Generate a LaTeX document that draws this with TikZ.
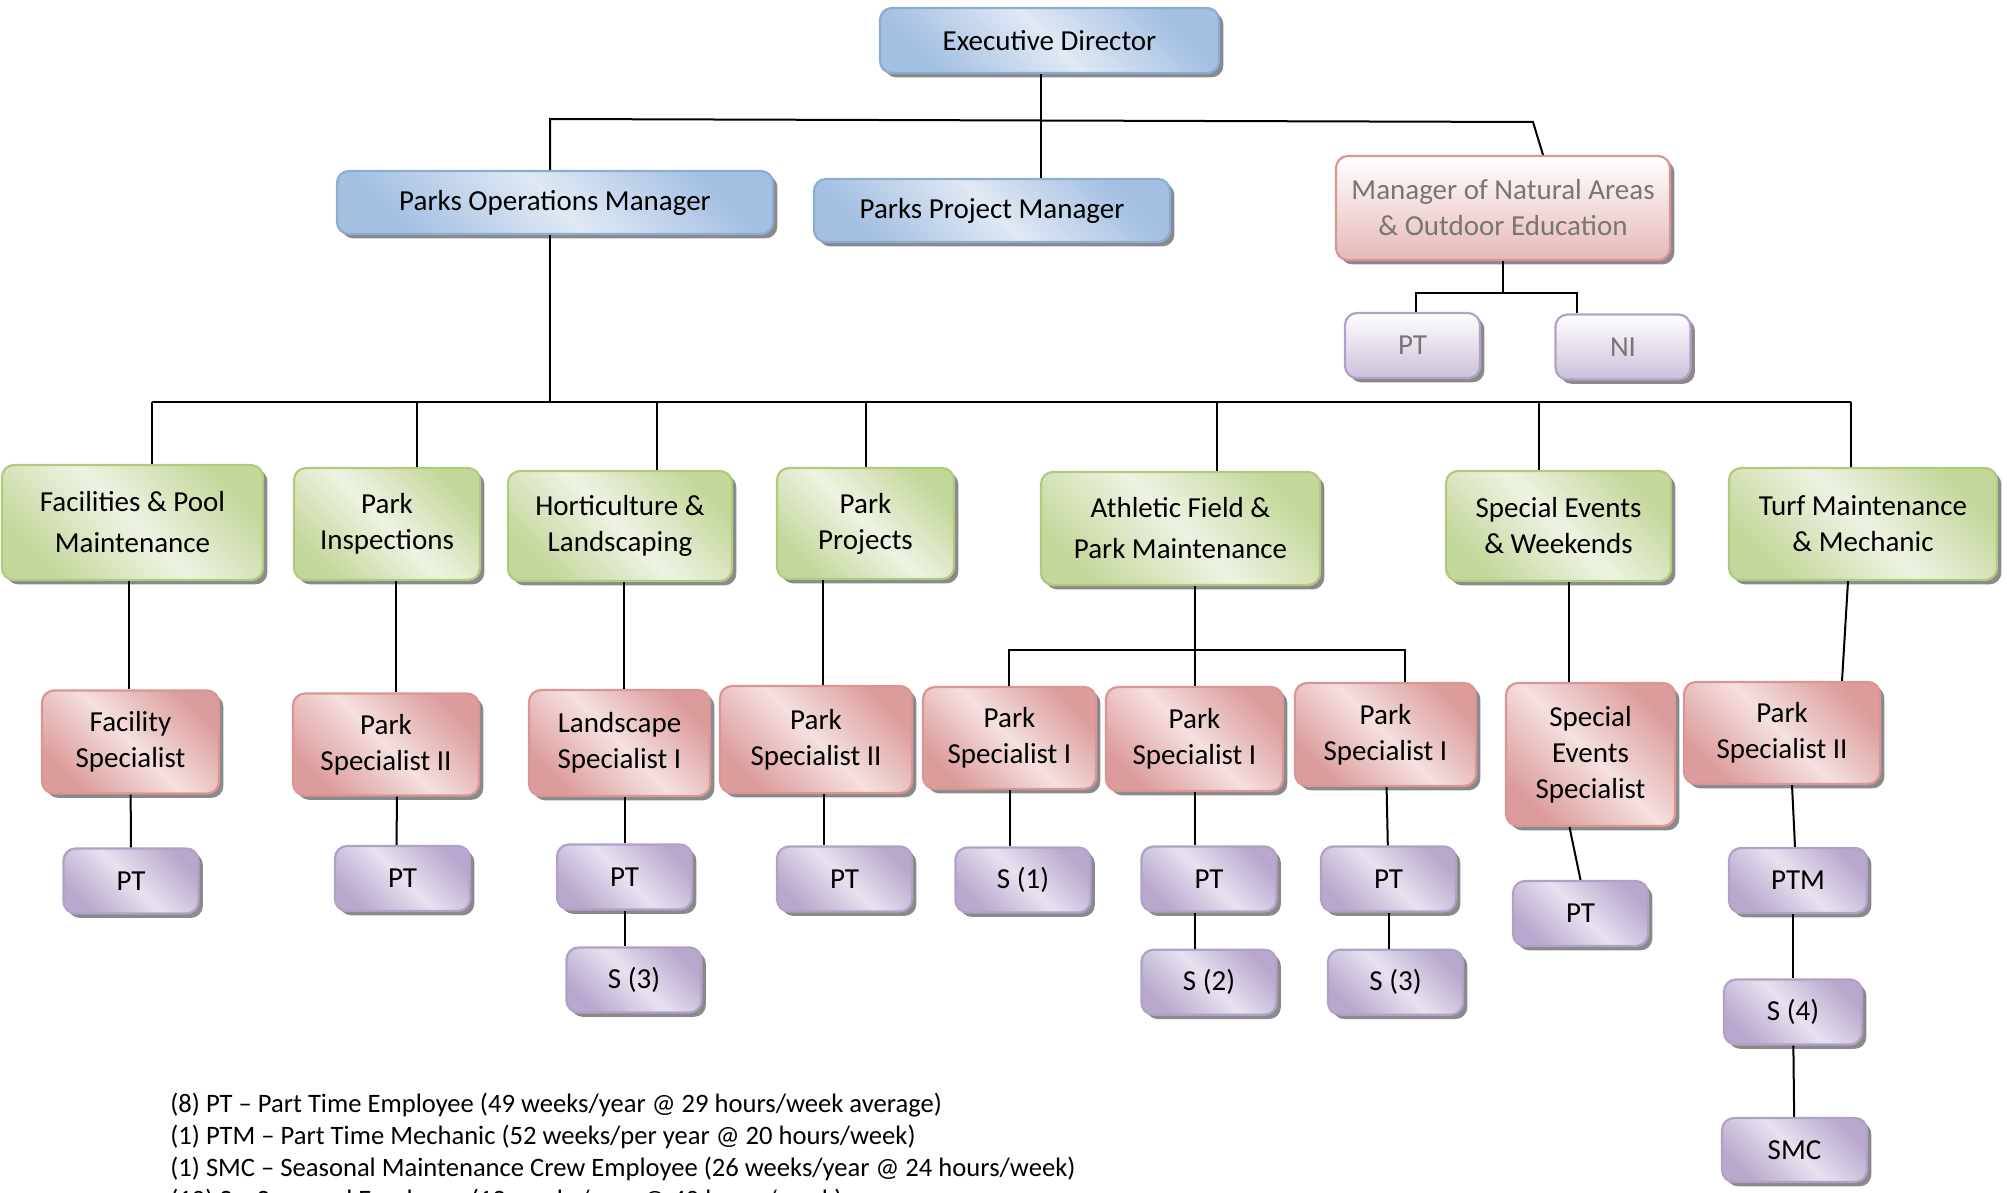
\documentclass[tikz,border=0pt]{standalone}
\usepackage{fontspec}
\setmainfont{Carlito}
\usetikzlibrary{shadows,calc,positioning}

\definecolor{blueE}{RGB}{140,172,212}
\definecolor{blueD}{RGB}{163,191,226}
\definecolor{blueL}{RGB}{224,233,244}
\definecolor{greenE}{RGB}{176,203,125}
\definecolor{greenD}{RGB}{196,215,155}
\definecolor{greenL}{RGB}{238,243,227}
\definecolor{redE}{RGB}{217,150,148}
\definecolor{redD}{RGB}{220,156,155}
\definecolor{redL}{RGB}{245,224,224}
\definecolor{purpE}{RGB}{178,161,199}
\definecolor{purpD}{RGB}{184,168,205}
\definecolor{purpL}{RGB}{231,226,239}
\definecolor{paleredD}{RGB}{230,185,184}
\definecolor{palepurpD}{RGB}{204,192,218}
\definecolor{mutedtext}{RGB}{118,118,118}
\definecolor{shadowgray}{RGB}{138,138,140}

\newcommand{\orgfont}{\fontsize{14.5pt}{18pt}\selectfont}
\newcommand{\keyfont}{\fontsize{13.3pt}{16pt}\selectfont}

\tikzset{
    unit/.style = {rounded corners=6pt, line width=1.1pt, inner sep=2pt, align=center,
                   font=\orgfont, text=black,
                   drop shadow={shadow xshift=2.2pt, shadow yshift=-2.2pt, fill=shadowgray, opacity=1}},
    bluebox/.style = {unit, draw=blueE, top color=blueD, bottom color=blueD, middle color=blueL, shading angle=-45},
    greenbox/.style = {unit, draw=greenE, top color=greenD, bottom color=greenD, middle color=greenL, shading angle=-45},
    redbox/.style = {unit, draw=redE, top color=redD, bottom color=redD, middle color=redL, shading angle=-45},
    purplebox/.style = {unit, draw=purpE, top color=purpD, bottom color=purpD, middle color=purpL, shading angle=-45,
                        minimum width=67.5pt, minimum height=32.5pt},
    palered/.style = {unit, draw=redE, top color=white, bottom color=paleredD, text=mutedtext},
    palepurple/.style = {unit, draw=purpE, top color=white, bottom color=palepurpD, text=mutedtext,
                         minimum width=67.5pt, minimum height=32.5pt},
    link/.style = {line width=1pt, draw=black},
}

\begin{document}
\begin{tikzpicture}[x=0.5pt, y=-0.5pt]
    \useasboundingbox (0,0) rectangle (2007,1193);

    \node[bluebox, minimum width=169.5pt, minimum height=32.5pt] (ed) at (1049.5,40.5) {Executive Director};
    \node[bluebox, minimum width=218pt, minimum height=31.5pt] (pom) at (555,202.5) {Parks Operations Manager};
    \node[bluebox, minimum width=178pt, minimum height=31.5pt] (ppm) at (992,210.5) {Parks Project Manager};
    \node[palered, minimum width=167pt, minimum height=52pt] (mna) at (1503,208)
        {Manager of Natural Areas\\ \& Outdoor Education};
    \node[palepurple] (ptn) at (1412.5,345.5) {PT};
    \node[palepurple] (ni) at (1623,347) {NI};

    \node[greenbox, minimum width=130.5pt, minimum height=57.5pt, font=\fontsize{14.5pt}{20.5pt}\selectfont]
        (fac) at (132.5,522.5) {Facilities \& Pool\\ Maintenance};
    \node[greenbox, minimum width=93pt, minimum height=56pt] (insp) at (387,524) {Park\\ Inspections};
    \node[greenbox, minimum width=112pt, minimum height=55pt] (hort) at (620,526) {Horticulture \&\\ Landscaping};
    \node[greenbox, minimum width=88.5pt, minimum height=55.5pt] (proj) at (865.5,523.5) {Park\\ Projects};
    \node[greenbox, minimum width=139.5pt, minimum height=56.5pt, font=\fontsize{14.5pt}{20.5pt}\selectfont]
        (ath) at (1180.5,528.5) {Athletic Field \&\\ Park Maintenance};
    \node[greenbox, minimum width=112.5pt, minimum height=55pt] (spe) at (1558.5,526) {Special Events\\ \& Weekends};
    \node[greenbox, minimum width=134pt, minimum height=56pt] (turf) at (1863,524) {Turf Maintenance\\ \& Mechanic};

    \node[redbox, minimum width=88.5pt, minimum height=51.5pt] (fs) at (130.5,742) {Facility\\ Specialist};
    \node[redbox, minimum width=93pt, minimum height=51pt] (ps2a) at (386,744.5) {Park\\ Specialist II};
    \node[redbox, minimum width=90.5pt, minimum height=53pt] (ls) at (619.5,743) {Landscape\\ Specialist I};
    \node[redbox, minimum width=96pt, minimum height=53.5pt] (ps2b) at (816,739.5) {Park\\ Specialist II};
    \node[redbox, minimum width=86.5pt, minimum height=51pt] (ps1a) at (1009.5,738) {Park\\ Specialist I};
    \node[redbox, minimum width=88.5pt, minimum height=52pt] (ps1b) at (1194.5,739) {Park\\ Specialist I};
    \node[redbox, minimum width=90.5pt, minimum height=51.5pt] (ps1c) at (1385.5,734.5) {Park\\ Specialist I};
    \node[redbox, minimum width=84.5pt, minimum height=71.5pt] (ses) at (1590.5,754.5) {Special\\ Events\\ Specialist};
    \node[redbox, minimum width=98pt, minimum height=51pt] (ps2c) at (1782,733) {Park\\ Specialist II};

    \node[purplebox] (pt1) at (131,881) {PT};
    \node[purplebox] (pt2) at (402.5,878.5) {PT};
    \node[purplebox] (pt3) at (624.5,877) {PT};
    \node[purplebox] (s3a) at ($(pt3) + (9.5,103)$) {S (3)};
    \node[purplebox] (pt4) at (844.5,879) {PT};
    \node[purplebox] (s1) at (1023,880) {S (1)};
    \node[purplebox] (pt5) at (1209,879) {PT};
    \node[purplebox, below = 18pt of pt5] (s2) {S (2)};
    \node[purplebox] (pt6) at (1388.5,879) {PT};
    \node[purplebox, below = 18pt of pt6, xshift=3.5pt] (s3b) {S (3)};
    \node[purplebox] (pt7) at (1580.5,913.5) {PT};
    \node[purplebox, minimum width=69pt] (ptm) at (1798,880.5) {PTM};
    \node[purplebox, minimum width=69pt] (s4) at ($(ptm) + (-5,131.5)$) {S (4)};
    \node[purplebox, minimum width=72.5pt, minimum height=32pt] (smc) at ($(s4) + (1.5,138)$) {SMC};

    \node[anchor=north west, align=left, inner sep=0pt, font=\keyfont] (key) at (170,1093)
        {(8) PT – Part Time Employee (49 weeks/year @ 29 hours/week average)\\
         (1) PTM – Part Time Mechanic (52 weeks/per year @ 20 hours/week)\\
         (1) SMC – Seasonal Maintenance Crew Employee (26 weeks/year @ 24 hours/week)\\
         (10) S – Seasonal Employee (12 weeks/year @ 40 hours/week)};

    \coordinate (j0) at (1041,100);
    \coordinate (t1) at (550,119);
    \coordinate (t2) at (1533,122);
    \coordinate (b1) at (152,402);
    \coordinate (b2) at (1851,402);
    \coordinate (a1) at (1009,650);
    \coordinate (a2) at (1405,650);
    \coordinate (m1) at (1416,293);
    \coordinate (m2) at (1577,293);

    \draw[link] (ed.south -| j0) -- (ppm.north -| j0);
    \draw[link] (pom.north -| t1) -- (t1) -- (t2) -- ([xshift=20pt]mna.north);
    \draw[link] (mna.south) -- (mna.south |- m1);
    \draw[link] (ptn.north -| m1) -- (m1) -- (m2) -- (ni.north -| m2);

    \draw[link] (pom.south -| t1) -- (t1 |- b1);
    \draw[link] (b1) -- (b2);
    \draw[link] (b1) -- (fac.north -| b1);
    \draw[link] ([xshift=15pt]insp.north |- b1) -- ([xshift=15pt]insp.north);
    \draw[link] ([xshift=18.5pt]hort.north |- b1) -- ([xshift=18.5pt]hort.north);
    \draw[link] (proj.north |- b1) -- (proj.north);
    \draw[link] ([xshift=18.25pt]ath.north |- b1) -- ([xshift=18.25pt]ath.north);
    \draw[link] ([xshift=-9.75pt]spe.north |- b1) -- ([xshift=-9.75pt]spe.north);
    \draw[link] (b2) -- (turf.north -| b2);

    \draw[link] ([xshift=-2pt]fac.south) -- ([xshift=-1pt]fs.north);
    \draw[link] ([xshift=4.5pt]insp.south) -- ([xshift=5pt]ps2a.north);
    \draw[link] ([xshift=2pt]hort.south) -- ([xshift=2.25pt]ls.north);
    \draw[link] ([xshift=3.5pt]ps2b.north |- proj.south) -- ([xshift=3.5pt]ps2b.north);
    \draw[link] (ath.south -| ps1b) -- (ps1b.north);
    \draw[link] (ps1a.north -| a1) -- (a1) -- (a2) -- (ps1c.north -| a2);
    \draw[link] ([xshift=-11pt]ses.north |- spe.south) -- ([xshift=-11pt]ses.north);
    \draw[link] ([xshift=-7.5pt]turf.south) -- ([xshift=30pt]ps2c.north);

    \draw[link] (fs) -- (pt1);
    \draw[link] ([xshift=5.5pt]ps2a.south) -- ([xshift=-3pt]pt2.north);
    \draw[link] (pt3.north |- ls.south) -- (pt3.north);
    \draw[link] (pt3.south) -- (pt3.south |- s3a.north);
    \draw[link] ([xshift=4pt]ps2b.south) -- ([xshift=4pt]ps2b.south |- pt4.north);
    \draw[link] (ps1a.south) -- (ps1a.south |- s1.north);
    \draw[link] (ps1b.south) -- (ps1b.south |- pt5.north);
    \draw[link] (pt5.south -| ps1b) -- (s2.north -| ps1b);
    \draw[link] (ps1c) -- (pt6);
    \draw[link] (pt6.south) -- (pt6.south |- s3b.north);
    \draw[link] ([xshift=-10.5pt]ses.south) -- (pt7.north);
    \draw[link] ([xshift=5pt]ps2c.south) -- ([xshift=-1.5pt]ptm.north);
    \draw[link] (ptm.south -| s4) -- (s4.north);
    \draw[link] (s4) -- (smc);
\end{tikzpicture}
\end{document}
